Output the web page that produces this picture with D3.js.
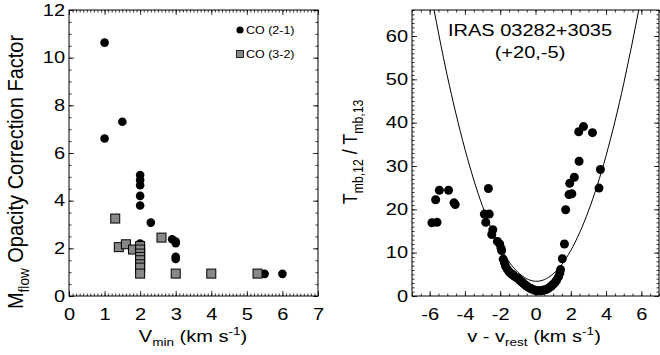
<!DOCTYPE html>
<html><head><meta charset="utf-8">
<script src="https://cdn.jsdelivr.net/npm/d3@7"></script>
<style>
body{margin:0;background:#fff}
svg text{font-family:"Liberation Sans",Arial,Helvetica,sans-serif;fill:#000}
</style>
</head><body>
<svg id="chart" width="660" height="355"></svg>
<script>
// ---- Left panel: opacity correction factor vs. minimum velocity ----
const co21Vmin   = [1.0, 1.0, 1.5, 2.0, 2.0, 2.0, 2.0, 2.0, 2.0, 2.0, 2.3, 2.9, 3.0, 3.0, 3.0, 3.0, 5.5, 6.0];
const co21Factor = [10.63, 6.61, 7.31, 5.08, 4.87, 4.65, 4.2, 3.8, 2.2, 2.0, 3.08, 2.38, 2.28, 2.22, 1.64, 1.55, 0.93, 0.93];
const co32Vmin   = [1.3, 1.4, 1.6, 1.8, 2.0, 2.0, 2.0, 2.0, 2.0, 2.0, 2.0, 2.0, 2.6, 3.0, 4.0, 5.3];
const co32Factor = [3.25, 2.05, 2.17, 1.95, 2.09, 1.95, 1.78, 1.64, 1.5, 1.33, 1.19, 0.94, 2.45, 0.94, 0.94, 0.94];
const leftXTicks = [0, 1, 2, 3, 4, 5, 6, 7];
const leftYTicks = [0, 2, 4, 6, 8, 10, 12];
const legendLabels = ["CO (2-1)", "CO (3-2)"];

// ---- Right panel: 12CO/13CO line ratio vs. velocity offset ----
const velOffset = [
  -5.87, -5.58, -5.66, -5.45, -4.93, -4.62, -4.55,
  -2.67, -2.90, -2.62, -2.82, -2.42, -2.48, -2.16, -2.03, -1.95, -1.92, -1.83, -1.76,
  -1.70, -1.60, -1.50, -1.40, -1.30, -1.20, -1.10, -1.00, -0.90, -0.80, -0.70, -0.60,
  -0.50, -0.40, -0.30, -0.20, -0.10, 0.00, 0.10, 0.20, 0.30, 0.40, 0.50, 0.60, 0.70,
  0.80, 0.90, 1.00, 1.10, 1.20, 1.30, 1.38, 1.42,
  1.52, 1.64, 1.71, 1.90, 1.94, 2.06, 2.20, 2.47, 2.45, 2.72, 3.23, 3.60, 3.68];
const lineRatio = [
  16.9, 17.0, 22.2, 24.4, 24.4, 21.5, 21.1,
  24.8, 18.9, 18.9, 17.0, 15.3, 14.2, 12.6, 12.0, 11.0, 10.5, 8.5, 7.7,
  6.9, 6.2, 5.6, 5.2, 4.9, 4.6, 4.3, 4.0, 3.7, 3.3, 3.0, 2.6,
  2.3, 2.0, 1.8, 1.6, 1.4, 1.3, 1.2, 1.2, 1.2, 1.3, 1.4, 1.5, 1.7,
  2.0, 2.3, 2.7, 3.1, 3.7, 4.4, 5.3, 6.1,
  8.6, 12.0, 19.9, 23.4, 26.0, 23.6, 27.4, 31.1, 37.9, 39.1, 37.7, 24.9, 29.2];
// model curve
const modelV     = [-5.8, -5, -4, -3, -2, -1, 0, 1, 2, 3, 4, 5, 5.9];
const modelRatio = [67.1, 50.8, 33.9, 20.7, 11.2, 5.5, 3.4, 5.1, 10.5, 19.6, 32.4, 49.0, 67.0];
const rightXTicks = [-6, -4, -2, 0, 2, 4, 6];
const rightYTicks = [0, 10, 20, 30, 40, 50, 60];
const sourceName = ["IRAS 03282+3035", "(+20,-5)"];

const svg = d3.select("#chart");
const SX = 1.25;          // horizontal glyph stretch of the plot font
const FS = 16;            // tick / title font size

function label(g, x, y, anchor, size, parts, rotate, sx) {
  const t = g.append("text")
    .attr("transform", `translate(${x},${y}) scale(${sx || SX},1)` + (rotate ? " rotate(-90)" : ""))
    .attr("text-anchor", anchor).attr("font-size", size);
  parts.forEach(p => {
    const s = t.append("tspan").text(p.t);
    if (p.sub) s.attr("font-size", size * 0.68).attr("dy", size * 0.28);
    else if (p.sup) s.attr("font-size", size * 0.68).attr("dy", -size * 0.42);
    else if (p.dy) s.attr("dy", p.dy);
  });
  return t;
}

function frame(g, x, y, majorX, minorX, majorY, minorY, fmtX) {
  const [x0, x1] = x.range(), [y0, y1] = y.range();
  const w = x1 - x0, h = y0 - y1;
  const inward = (axis, len, vals) => axis.tickValues(vals).tickSize(len).tickFormat("").tickSizeOuter(0);
  // minor ticks
  g.append("g").attr("transform", `translate(0,${y0})`).call(inward(d3.axisBottom(x), -2.5, minorX));
  g.append("g").attr("transform", `translate(0,${y1})`).call(inward(d3.axisTop(x), -2.5, minorX));
  g.append("g").attr("transform", `translate(${x0},0)`).call(inward(d3.axisLeft(y), -2.5, minorY));
  g.append("g").attr("transform", `translate(${x1},0)`).call(inward(d3.axisRight(y), -2.5, minorY));
  // major ticks
  g.append("g").attr("transform", `translate(0,${y1})`).call(inward(d3.axisTop(x), -5, majorX));
  g.append("g").attr("transform", `translate(${x1},0)`).call(inward(d3.axisRight(y), -5, majorY));
  const bx = g.append("g").attr("transform", `translate(0,${y0})`)
    .call(d3.axisBottom(x).tickValues(majorX).tickSize(-5).tickSizeOuter(0).tickPadding(13).tickFormat(fmtX));
  const by = g.append("g").attr("transform", `translate(${x0},0)`)
    .call(d3.axisLeft(y).tickValues(majorY).tickSize(-5).tickSizeOuter(0).tickFormat(d3.format("d")));
  g.selectAll(".domain").remove();
  g.selectAll(".tick line").attr("stroke", "#000").attr("stroke-width", 0.8);
  bx.selectAll("text").attr("font-size", FS).attr("font-family", null).attr("dy", "0.71em")
    .attr("transform", `scale(${SX},1)`);
  by.selectAll("text").attr("font-size", FS).attr("font-family", null)
    .attr("x", -4 / SX).attr("transform", `scale(${SX},1)`);
  g.append("rect").attr("x", x0).attr("y", y1).attr("width", w).attr("height", h)
    .attr("fill", "none").attr("stroke", "#000").attr("stroke-width", 1);
}

const range = (a, b, s) => d3.range(Math.round((b - a) / s) + 1).map(i => +(a + i * s).toFixed(3));
const fmtSigned = d => (d < 0 ? "-" + Math.abs(d) : String(d));

// ---------- left panel ----------
const L = svg.append("g");
const xL = d3.scaleLinear().domain([0, 7]).range([69, 318]);
const yL = d3.scaleLinear().domain([0, 12]).range([296, 10]);
frame(L, xL, yL, leftXTicks, range(0, 7, 0.1), leftYTicks, range(0, 12, 0.5), d3.format("d"));

L.append("g").selectAll("circle").data(co21Vmin).join("circle")
  .attr("cx", d => xL(d)).attr("cy", (d, i) => yL(co21Factor[i])).attr("r", 4.3).attr("fill", "#000");
L.append("g").selectAll("rect").data(co32Vmin).join("rect")
  .attr("x", d => xL(d) - 4.5).attr("y", (d, i) => yL(co32Factor[i]) - 4.5)
  .attr("width", 9).attr("height", 9).attr("fill", "#888").attr("stroke", "#000").attr("stroke-width", 1);

// legend
L.append("circle").attr("cx", 240).attr("cy", 30).attr("r", 3.6).attr("fill", "#000");
L.append("rect").attr("x", 236.5).attr("y", 50.5).attr("width", 7).attr("height", 7)
  .attr("fill", "#888").attr("stroke", "#000").attr("stroke-width", 0.8);
label(L, 246, 33.5, "start", 10, [{t: legendLabels[0]}]);
label(L, 246, 57.5, "start", 10, [{t: legendLabels[1]}]);

label(L, 193, 342, "middle", FS, [{t: "V"}, {t: "min", sub: true}, {t: " (km s", dy: -FS * 0.28}, {t: "-1", sup: true}, {t: ")", dy: FS * 0.42}]);
label(L, 23, 172, "middle", 20, [{t: "M"}, {t: "flow", sub: true}, {t: " Opacity Correction Factor", dy: -20 * 0.28}], true, 1.1);

// ---------- right panel ----------
const R = svg.append("g");
const xR = d3.scaleLinear().domain([-7, 7]).range([412, 659]);
const yR = d3.scaleLinear().domain([0, 66]).range([296, 10]);
frame(R, xR, yR, rightXTicks, range(-7, 7, 0.5), rightYTicks, range(0, 66, 1), fmtSigned);

R.append("clipPath").attr("id", "clipR").append("rect")
  .attr("x", 412).attr("y", 10).attr("width", 247).attr("height", 286);
R.append("path").datum(modelV.map((v, i) => [v, modelRatio[i]]))
  .attr("clip-path", "url(#clipR)")
  .attr("d", d3.line().x(d => xR(d[0])).y(d => yR(d[1])).curve(d3.curveNatural))
  .attr("fill", "none").attr("stroke", "#000").attr("stroke-width", 1);
R.append("g").selectAll("circle").data(velOffset).join("circle")
  .attr("cx", d => xR(d)).attr("cy", (d, i) => yR(lineRatio[i])).attr("r", 4.5).attr("fill", "#000");

label(R, 530, 36, "middle", FS, [{t: sourceName[0]}]);
label(R, 530, 58, "middle", FS, [{t: sourceName[1]}]);
label(R, 534, 342, "middle", FS, [{t: "v - v"}, {t: "rest", sub: true}, {t: " (km s", dy: -FS * 0.28}, {t: "-1", sup: true}, {t: ")", dy: FS * 0.42}]);
label(R, 357, 152, "middle", 18, [{t: "T"}, {t: "mb,12", sub: true}, {t: " / T", dy: -18 * 0.28}, {t: "mb,13", sub: true}], true, 1.15);
</script>
</body></html>
